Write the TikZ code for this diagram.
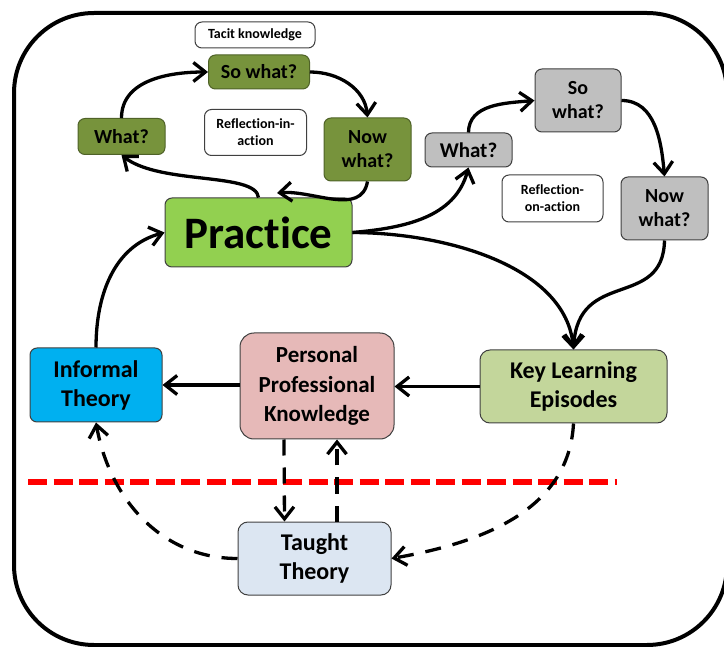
\documentclass[tikz,border=0pt]{standalone}
\usepackage{fontspec}
\setmainfont{Carlito}[Ligatures=NoCommon]
\usetikzlibrary{arrows.meta}
\definecolor{olive}{HTML}{77933C}
\definecolor{oliveline}{HTML}{4F6228}
\definecolor{pract}{HTML}{92D050}
\definecolor{greybox}{HTML}{BFBFBF}
\definecolor{infcol}{HTML}{00B0F0}
\definecolor{ppkcol}{HTML}{E6B9B8}
\definecolor{klecol}{HTML}{C3D69B}
\definecolor{ttcol}{HTML}{DCE6F2}
\definecolor{boxline}{HTML}{404040}
\newcommand\fsz[2]{\fontsize{#1}{#2}\selectfont\bfseries}
\begin{document}
\begin{tikzpicture}[x=1pt,y=-1pt,
  box/.style={draw=boxline, line width=1pt, rounded corners=7pt, inner sep=0pt, align=center},
  greenbox/.style={box, fill=olive, draw=oliveline},
  greybox/.style={box, fill=greybox},
  notebox/.style={box, fill=white, font=\fsz{14}{17}},
  arr/.style={line width=3.3pt, -{Straight Barb[length=12pt,width=19pt]}},
  darr/.style={arr, dash pattern=on 16pt off 12pt}
]
\useasboundingbox (0,0) rectangle (724,647);
\clip (0,0) rectangle (724,647);
\draw[line width=4pt, rounded corners=80pt] (14,13) rectangle (727,645);

% nodes
\node[notebox, minimum width=120pt, minimum height=26pt] (tacit) at (255,35) {Tacit knowledge};
\node[greenbox, minimum width=101pt, minimum height=34pt, font=\fsz{20}{23}] (sw1) at (259,72) {So what?};
\node[greenbox, minimum width=87pt, minimum height=36pt, font=\fsz{20}{22}] (w1) at (121.5,136.5) {What?};
\node[notebox, minimum width=102pt, minimum height=46pt] (ria) at (255.5,132.5) {Reflection-in-\\action};
\node[greenbox, minimum width=87pt, minimum height=63pt, font=\fsz{20}{24}] (nw1) at (367.5,149.5) {Now\\what?};
\node[box, fill=pract, minimum width=187pt, minimum height=69pt, font=\fsz{45}{48}] (practice) at (258.5,232.5) {Practice};
\node[greybox, minimum width=87pt, minimum height=34pt, font=\fsz{21}{22}] (w2) at (468.5,150) {What?};
\node[greybox, minimum width=86pt, minimum height=63pt, font=\fsz{20}{24}] (sw2) at (578,100.5) {So\\what?};
\node[notebox, minimum width=101pt, minimum height=47pt] (roa) at (552.5,198.5) {Reflection-\\on-action};
\node[greybox, minimum width=87pt, minimum height=63pt, font=\fsz{20}{24}] (nw2) at (664.5,208.5) {Now\\what?};
\node[box, fill=infcol, minimum width=132pt, minimum height=74pt, font=\fsz{24}{29}] (inf) at (96,385) {Informal\\Theory};
\node[box, fill=ppkcol, minimum width=154pt, minimum height=106pt, rounded corners=14pt, font=\fsz{23}{29.5}] (ppk) at (317,386) {Personal\\Professional\\Knowledge};
\node[box, fill=klecol, minimum width=187pt, minimum height=73pt, rounded corners=10pt, font=\fsz{24}{29}] (kle) at (573.5,386.5) {Key Learning\\Episodes};
\node[box, fill=ttcol, minimum width=153pt, minimum height=73pt, rounded corners=10pt, font=\fsz{24}{29}] (tt) at (314.5,558.5) {Taught\\Theory};

\coordinate (pin) at (277,193);

% red dashed line
\draw[red, line width=5.5pt, dash pattern=on 19pt off 6.5pt] (28,482) -- (617,482);

% arrows
\draw[arr] (inf.north) to[out=90,in=195] (practice.west);
\draw[arr] (practice.north) .. controls (256,172) and (160,185) .. (w1.south);
\draw[arr] (w1.north) to[out=90,in=180] (sw1.west);
\draw[arr] (sw1.east) to[out=0,in=95] (nw1.north);
\draw[arr] (nw1.south) to[out=-100,in=5] (pin);
\draw[arr] (practice.east) to[out=5,in=-105] (w2.south);
\draw[arr] (w2.north) to[out=90,in=185] (sw2.west);
\draw[arr] (sw2.east) to[out=0,in=95] (nw2.north);
\draw[arr] (nw2.south) .. controls (663,310) and (578,268) .. (kle.north);
\draw[arr] (practice.east) .. controls (450,233) and (566,268) .. (kle.north);
\draw[arr] (kle.west) -- (ppk.east |- kle.west);
\draw[arr] (ppk.west |- inf.east) -- (inf.east);
\draw[darr] ([xshift=-33pt]ppk.south) -- ([xshift=-30pt]tt.north);
\draw[darr] ([xshift=22.5pt]tt.north) -- ([xshift=20pt]ppk.south);
\draw[darr] (tt.west) to[out=180,in=-80] (inf.south);
\draw[darr] (kle.south) to[out=-93,in=10] (tt.east);
\end{tikzpicture}
\end{document}
